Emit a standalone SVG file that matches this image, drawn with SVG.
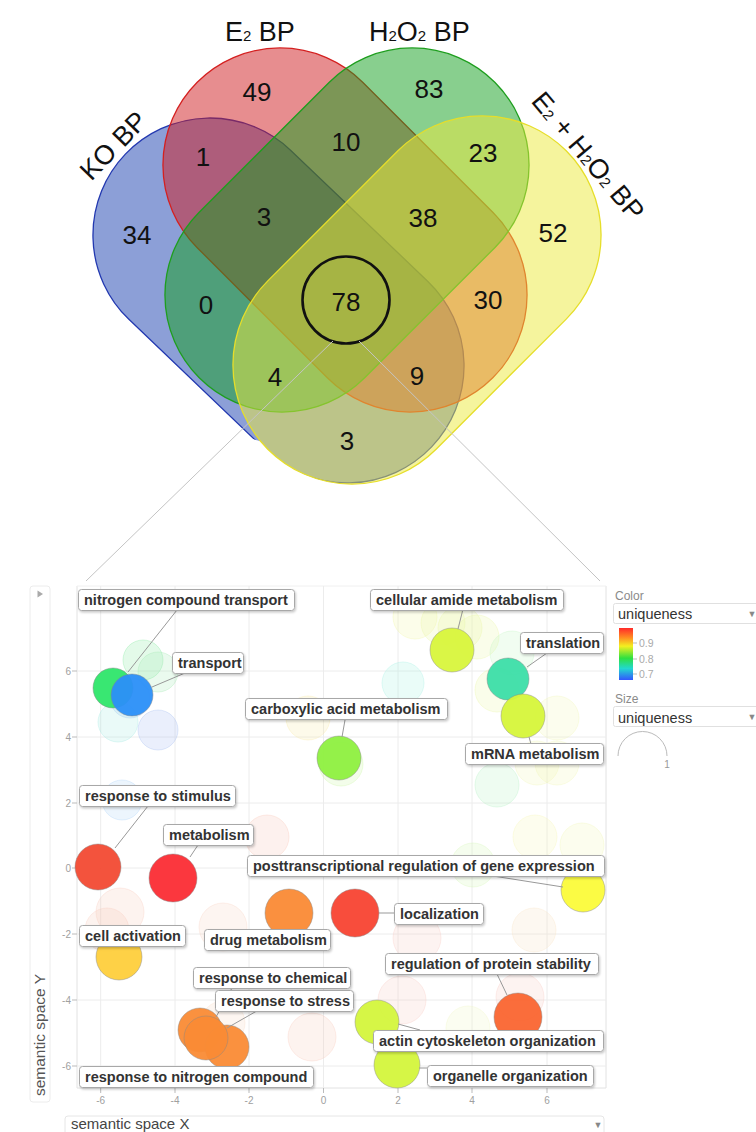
<svg xmlns="http://www.w3.org/2000/svg" width="756" height="1132" viewBox="0 0 756 1132">
<defs>
<style>
.vt{font-family:"Liberation Sans",Arial,sans-serif;fill:#111;}
.num{font-family:"Liberation Sans",Arial,sans-serif;font-size:26px;fill:#111;text-anchor:middle;}
.set{stroke-width:1.3;}
.grid{stroke:#ececec;stroke-width:1;fill:none;}
.tick{font-family:"Liberation Sans",Arial,sans-serif;font-size:10px;fill:#a0a0a0;}
.tk{stroke:#bbb;stroke-width:1;}
.fb{stroke-width:1;fill-opacity:0.22;stroke-opacity:0.3;}
.cb{stroke-width:1;fill-opacity:0.95;stroke:#888;stroke-opacity:0.45;}
.lbl rect{fill:#fff;stroke:#a8a8a8;stroke-width:1;filter:url(#sh);}
.lbl text{font-family:"Liberation Sans",Arial,sans-serif;font-size:14.5px;font-weight:bold;fill:#333;}
.con line{stroke:#999;stroke-width:1;}
.zoom line{stroke:#c4c4c4;stroke-width:1;}
.ui{font-family:"Liberation Sans",Arial,sans-serif;}
</style>
<filter id="sh" x="-10%" y="-30%" width="120%" height="170%">
<feDropShadow dx="1" dy="1.5" stdDeviation="1" flood-color="#000" flood-opacity="0.22"/>
</filter>
<linearGradient id="cg" x1="0" y1="0" x2="0" y2="1">
<stop offset="0" stop-color="#ff2a2a"/>
<stop offset="0.18" stop-color="#ff8a22"/>
<stop offset="0.35" stop-color="#f3f020"/>
<stop offset="0.58" stop-color="#2ee040"/>
<stop offset="0.78" stop-color="#22d8d0"/>
<stop offset="1" stop-color="#3355ff"/>
</linearGradient>
<clipPath id="koclip">
<rect x="206" y="181" width="422" height="238" rx="119" transform="rotate(-45 417 300)"/>
<polygon points="0,0 756,0 756,600 352,600 352,470 0,360"/>
</clipPath>
</defs>
<rect width="756" height="1132" fill="#fff"/>

<!-- Venn diagram -->
<g id="set-KO" clip-path="url(#koclip)">
<rect class="set" x="66.7" y="183.5" width="423.6" height="234" rx="117" transform="rotate(43.7 278.5 300.5)" fill="#1a3fb0" fill-opacity="0.5" stroke="#2238b0"/>
</g>
<g id="set-E2">
<rect class="set" x="136" y="113" width="418" height="234" rx="117" transform="rotate(45 345 230)" fill="#d01c1f" fill-opacity="0.5" stroke="#d42020"/>
</g>
<g id="set-H2O2">
<rect class="set" x="138" y="113" width="418" height="234" rx="117" transform="rotate(-45 347 230)" fill="#12a01e" fill-opacity="0.5" stroke="#1e9e1e"/>
</g>
<g id="set-E2H2O2">
<rect class="set" x="206" y="181" width="422" height="238" rx="119" transform="rotate(-45 417 300)" fill="#ecea3c" fill-opacity="0.5" stroke="#e6de2a"/>
</g>

<g id="venn-titles">
<text class="vt" x="120" y="152" font-size="27" text-anchor="middle" transform="rotate(-46 120 152)">KO BP</text>
<text class="vt" x="225" y="41" font-size="27">E<tspan font-size="15">2</tspan> BP</text>
<text class="vt" x="369" y="41" font-size="27">H<tspan font-size="15">2</tspan>O<tspan font-size="15">2</tspan> BP</text>
<text class="vt" x="581" y="162" font-size="27" text-anchor="middle" transform="rotate(50 581 162)">E<tspan font-size="15">2</tspan> + H<tspan font-size="15">2</tspan>O<tspan font-size="15">2</tspan> BP</text>
</g>

<g id="venn-counts">
<text class="num" x="257" y="101">49</text>
<text class="num" x="429" y="98">83</text>
<text class="num" x="203" y="166">1</text>
<text class="num" x="346" y="151">10</text>
<text class="num" x="483" y="162">23</text>
<text class="num" x="137" y="244">34</text>
<text class="num" x="264" y="226">3</text>
<text class="num" x="423" y="227">38</text>
<text class="num" x="553" y="242">52</text>
<text class="num" x="206" y="314">0</text>
<text class="num" x="346" y="311">78</text>
<text class="num" x="488" y="309">30</text>
<text class="num" x="275" y="386">4</text>
<text class="num" x="417" y="385">9</text>
<text class="num" x="347" y="450">3</text>
</g>
<g id="highlight-78">
<circle cx="346" cy="300" r="43.5" fill="none" stroke="#111" stroke-width="2.6"/>
</g>

<g id="zoom-lines" class="zoom">
<line x1="333" y1="341" x2="86" y2="581"/>
<line x1="359" y1="341" x2="600" y2="581"/>
</g>

<!-- Scatter plot frame -->
<g id="plot-frame">
<rect x="30" y="586" width="20" height="516" rx="3" fill="#fff" stroke="#ececec"/>
<path d="M37.5,590.5 L43,594 L37.5,597.5 Z" fill="#aaa"/>
<text class="ui" x="45" y="1035" font-size="15.5" fill="#555" text-anchor="middle" transform="rotate(-90 45 1035)">semantic space Y</text>
<line x1="77" y1="586" x2="77" y2="1088" stroke="#e2e2e2"/>
<line x1="606" y1="586" x2="606" y2="1088" stroke="#e2e2e2"/>
<line x1="77" y1="1088" x2="606" y2="1088" stroke="#e2e2e2"/>
<line x1="77" y1="586" x2="606" y2="586" stroke="#f0f0f0"/>
<g class="grid">
<line x1="100.7" y1="586" x2="100.7" y2="1088"/>
<line x1="175" y1="586" x2="175" y2="1088"/>
<line x1="249" y1="586" x2="249" y2="1088"/>
<line x1="323.5" y1="586" x2="323.5" y2="1088"/>
<line x1="398" y1="586" x2="398" y2="1088"/>
<line x1="472" y1="586" x2="472" y2="1088"/>
<line x1="547" y1="586" x2="547" y2="1088"/>
<line x1="77" y1="671" x2="606" y2="671"/>
<line x1="77" y1="737" x2="606" y2="737"/>
<line x1="77" y1="803" x2="606" y2="803"/>
<line x1="77" y1="868" x2="606" y2="868"/>
<line x1="77" y1="934" x2="606" y2="934"/>
<line x1="77" y1="1000" x2="606" y2="1000"/>
<line x1="77" y1="1066" x2="606" y2="1066"/>
</g>
<g class="tk">
<line x1="72" y1="671" x2="77" y2="671"/>
<line x1="72" y1="737" x2="77" y2="737"/>
<line x1="72" y1="803" x2="77" y2="803"/>
<line x1="72" y1="868" x2="77" y2="868"/>
<line x1="72" y1="934" x2="77" y2="934"/>
<line x1="72" y1="1000" x2="77" y2="1000"/>
<line x1="72" y1="1066" x2="77" y2="1066"/>
<line x1="100.7" y1="1088" x2="100.7" y2="1093"/>
<line x1="175" y1="1088" x2="175" y2="1093"/>
<line x1="249" y1="1088" x2="249" y2="1093"/>
<line x1="323.5" y1="1088" x2="323.5" y2="1093"/>
<line x1="398" y1="1088" x2="398" y2="1093"/>
<line x1="472" y1="1088" x2="472" y2="1093"/>
<line x1="547" y1="1088" x2="547" y2="1093"/>
</g>
<g class="tick" text-anchor="end">
<text x="71" y="674.5">6</text>
<text x="71" y="740.5">4</text>
<text x="71" y="806.5">2</text>
<text x="71" y="871.5">0</text>
<text x="71" y="937.5">-2</text>
<text x="71" y="1003.5">-4</text>
<text x="71" y="1069.5">-6</text>
</g>
<g class="tick" text-anchor="middle">
<text x="100.7" y="1104">-6</text>
<text x="175" y="1104">-4</text>
<text x="249" y="1104">-2</text>
<text x="323.5" y="1104">0</text>
<text x="398" y="1104">2</text>
<text x="472" y="1104">4</text>
<text x="547" y="1104">6</text>
</g>
<rect x="65" y="1116" width="539" height="30" rx="3" fill="#fff" stroke="#e6e6e6"/>
<text class="ui" x="71" y="1128.5" font-size="15" fill="#444">semantic space X</text>
<text class="ui" x="598" y="1128" font-size="9" fill="#888" text-anchor="middle">▼</text>
</g>

<!-- Legend -->
<g id="legend">
<text class="ui" x="615" y="600" font-size="12" fill="#8a8a8a">Color</text>
<rect x="613.5" y="603.5" width="160" height="20" rx="2" fill="#fff" stroke="#e0e0e0"/>
<text class="ui" x="618" y="619" font-size="14.5" fill="#333">uniqueness</text>
<text class="ui" x="752" y="617" font-size="9" fill="#888" text-anchor="middle">▼</text>
<rect x="619" y="628" width="14" height="52" fill="url(#cg)"/>
<g stroke="#bbb"><line x1="633" y1="643" x2="637" y2="643"/><line x1="633" y1="659" x2="637" y2="659"/><line x1="633" y1="674" x2="637" y2="674"/></g>
<text class="ui" x="639" y="647" font-size="10.5" fill="#aaa">0.9</text>
<text class="ui" x="639" y="663" font-size="10.5" fill="#aaa">0.8</text>
<text class="ui" x="639" y="678" font-size="10.5" fill="#aaa">0.7</text>
<text class="ui" x="615" y="703" font-size="12" fill="#8a8a8a">Size</text>
<rect x="613.5" y="706.5" width="160" height="20" rx="2" fill="#fff" stroke="#e0e0e0"/>
<text class="ui" x="618" y="723" font-size="14.5" fill="#333">uniqueness</text>
<text class="ui" x="752" y="720" font-size="9" fill="#888" text-anchor="middle">▼</text>
<path d="M618,756 A24.5,24.5 0 0 1 667,756" fill="none" stroke="#bbb" stroke-width="1"/>
<text class="ui" x="667" y="768" font-size="10" fill="#999" text-anchor="middle">1</text>
</g>

<!-- faint background bubbles -->
<g id="faint-bubbles">
<circle class="fb" cx="143" cy="660" r="20" fill="#7ee89a" stroke="#7ee89a"/>
<circle class="fb" cx="158" cy="672" r="20" fill="#9ee8b0" stroke="#9ee8b0"/>
<circle class="fb" cx="130" cy="698" r="20" fill="#9ec0f0" stroke="#9ec0f0"/>
<circle class="fb" cx="118" cy="722" r="20" fill="#a0e8e0" stroke="#a0e8e0"/>
<circle class="fb" cx="158" cy="730" r="20" fill="#a0b8f0" stroke="#a0b8f0"/>
<circle class="fb" cx="122" cy="800" r="20" fill="#a8d0f8" stroke="#a8d0f8"/>
<circle class="fb" cx="308" cy="718" r="22" fill="#f8e8a0" stroke="#f8e8a0"/>
<circle class="fb" cx="341" cy="764" r="22" fill="#c8f5a0" stroke="#c8f5a0"/>
<circle class="fb" cx="403" cy="683" r="21" fill="#a0f0e0" stroke="#a0f0e0"/>
<circle class="fb" cx="415" cy="617" r="22" fill="#f0f5a0" stroke="#f0f5a0"/>
<circle class="fb" cx="443" cy="623" r="22" fill="#e8f5a0" stroke="#e8f5a0"/>
<circle class="fb" cx="460" cy="628" r="22" fill="#e8f5a0" stroke="#e8f5a0"/>
<circle class="fb" cx="477" cy="637" r="22" fill="#e8f5a0" stroke="#e8f5a0"/>
<circle class="fb" cx="497" cy="690" r="22" fill="#e8f5a0" stroke="#e8f5a0"/>
<circle class="fb" cx="512" cy="653" r="22" fill="#c0f5c0" stroke="#c0f5c0"/>
<circle class="fb" cx="557" cy="718" r="22" fill="#f0f5b0" stroke="#f0f5b0"/>
<circle class="fb" cx="537" cy="763" r="22" fill="#f0f5b0" stroke="#f0f5b0"/>
<circle class="fb" cx="557" cy="763" r="22" fill="#f0f5b0" stroke="#f0f5b0"/>
<circle class="fb" cx="497" cy="785" r="22" fill="#b0f0c0" stroke="#b0f0c0"/>
<circle class="fb" cx="535" cy="837" r="22" fill="#f5f5b0" stroke="#f5f5b0"/>
<circle class="fb" cx="582" cy="845" r="22" fill="#f0f5b0" stroke="#f0f5b0"/>
<circle class="fb" cx="473" cy="865" r="22" fill="#d0f5b0" stroke="#d0f5b0"/>
<circle class="fb" cx="267" cy="837" r="22" fill="#f8c0b0" stroke="#f8c0b0"/>
<circle class="fb" cx="120" cy="912" r="24" fill="#f8c8b8" stroke="#f8c8b8"/>
<circle class="fb" cx="107" cy="930" r="22" fill="#f8c8b8" stroke="#f8c8b8"/>
<circle class="fb" cx="223" cy="927" r="24" fill="#f8d0c0" stroke="#f8d0c0"/>
<circle class="fb" cx="534" cy="930" r="22" fill="#f8e0c0" stroke="#f8e0c0"/>
<circle class="fb" cx="417" cy="938" r="24" fill="#f8c8c0" stroke="#f8c8c0"/>
<circle class="fb" cx="402" cy="1000" r="24" fill="#f8c8c0" stroke="#f8c8c0"/>
<circle class="fb" cx="520" cy="997" r="24" fill="#f8c8c0" stroke="#f8c8c0"/>
<circle class="fb" cx="468" cy="1028" r="22" fill="#eef5c0" stroke="#eef5c0"/>
<circle class="fb" cx="312" cy="1037" r="24" fill="#f8c8b8" stroke="#f8c8b8"/>
<circle class="fb" cx="223" cy="1023" r="22" fill="#f8d8c0" stroke="#f8d8c0"/>
</g>

<!-- labelled term bubbles -->
<g id="b-nitrogen-compound-transport"><circle class="cb" cx="113" cy="688" r="20" fill="#2ee66a"/></g>
<g id="b-transport"><circle class="cb" cx="132" cy="695" r="21" fill="#2b8ff8"/></g>
<g id="b-carboxylic-acid-metabolism"><circle class="cb" cx="339" cy="758" r="22" fill="#8ef040"/></g>
<g id="b-cellular-amide-metabolism"><circle class="cb" cx="452" cy="650" r="22" fill="#d8f53c"/></g>
<g id="b-translation"><circle class="cb" cx="508" cy="679" r="21" fill="#3cdea8"/></g>
<g id="b-mrna-metabolism"><circle class="cb" cx="523" cy="716" r="22" fill="#d6f53a"/></g>
<g id="b-response-to-stimulus"><circle class="cb" cx="98" cy="867" r="23" fill="#f24a33"/></g>
<g id="b-metabolism"><circle class="cb" cx="173" cy="878" r="24" fill="#fb2c34"/></g>
<g id="b-posttranscriptional"><circle class="cb" cx="583" cy="890" r="22" fill="#fbfb3a"/></g>
<g id="b-localization"><circle class="cb" cx="355" cy="913" r="24" fill="#f84332"/></g>
<g id="b-drug-metabolism"><circle class="cb" cx="289" cy="913" r="24" fill="#fa8a35"/></g>
<g id="b-cell-activation"><circle class="cb" cx="119" cy="957" r="23" fill="#fecf3c"/></g>
<g id="b-protein-stability"><circle class="cb" cx="518" cy="1017" r="24" fill="#fa6530"/></g>
<g id="b-response-to-chemical"><circle class="cb" cx="200" cy="1030" r="22" fill="#fa8b35"/></g>
<g id="b-response-to-nitrogen-compound"><circle class="cb" cx="227" cy="1047" r="22" fill="#fa8b35"/></g>
<g id="b-response-to-stress"><circle class="cb" cx="206" cy="1038" r="22" fill="#fa8b35"/></g>
<g id="b-actin"><circle class="cb" cx="377" cy="1022" r="22" fill="#d4f53c"/></g>
<g id="b-organelle"><circle class="cb" cx="397" cy="1065" r="23" fill="#d4f53c"/></g>

<!-- label connectors -->
<g id="connectors" class="con">
<line x1="177" y1="610" x2="128" y2="672"/>
<line x1="185" y1="673" x2="152" y2="687"/>
<line x1="345" y1="720" x2="342" y2="737"/>
<line x1="463" y1="609" x2="458" y2="629"/>
<line x1="547" y1="653" x2="527" y2="667"/>
<line x1="529" y1="737" x2="531" y2="744"/>
<line x1="148" y1="806" x2="115" y2="848"/>
<line x1="198" y1="845" x2="190" y2="857"/>
<line x1="493" y1="876" x2="563" y2="887"/>
<line x1="379" y1="913" x2="395" y2="913"/>
<line x1="497" y1="974" x2="507" y2="995"/>
<line x1="232" y1="988" x2="216" y2="1017"/>
<line x1="262" y1="1008" x2="227" y2="1028"/>
<line x1="398" y1="1024" x2="420" y2="1030"/>
<line x1="419" y1="1068" x2="428" y2="1068"/>
</g>

<!-- labels -->
<g id="l-nitrogen-compound-transport" class="lbl"><rect x="78.5" y="589.5" width="216" height="21" rx="3"/><text x="84" y="605">nitrogen compound transport</text></g>
<g id="l-transport" class="lbl"><rect x="172.5" y="652.5" width="71" height="21" rx="3"/><text x="178" y="668">transport</text></g>
<g id="l-carboxylic-acid-metabolism" class="lbl"><rect x="245.5" y="698.5" width="202" height="21" rx="3"/><text x="251" y="714">carboxylic acid metabolism</text></g>
<g id="l-cellular-amide-metabolism" class="lbl"><rect x="370.5" y="589.5" width="193" height="21" rx="3"/><text x="376" y="605">cellular amide metabolism</text></g>
<g id="l-translation" class="lbl"><rect x="520.5" y="632.5" width="83" height="21" rx="3"/><text x="526" y="648">translation</text></g>
<g id="l-mrna-metabolism" class="lbl"><rect x="465.5" y="743.5" width="138" height="21" rx="3"/><text x="471" y="759">mRNA metabolism</text></g>
<g id="l-response-to-stimulus" class="lbl"><rect x="79.5" y="785.5" width="156" height="21" rx="3"/><text x="85" y="801">response to stimulus</text></g>
<g id="l-metabolism" class="lbl"><rect x="163.5" y="824.5" width="90" height="21" rx="3"/><text x="169" y="840">metabolism</text></g>
<g id="l-posttranscriptional" class="lbl"><rect x="247.5" y="855.5" width="357" height="21" rx="3"/><text x="253" y="871">posttranscriptional regulation of gene expression</text></g>
<g id="l-localization" class="lbl"><rect x="394.5" y="903.5" width="89" height="21" rx="3"/><text x="400" y="919">localization</text></g>
<g id="l-drug-metabolism" class="lbl"><rect x="204.5" y="929.5" width="126" height="21" rx="3"/><text x="210" y="945">drug metabolism</text></g>
<g id="l-cell-activation" class="lbl"><rect x="79.5" y="925.5" width="106" height="21" rx="3"/><text x="85" y="941">cell activation</text></g>
<g id="l-protein-stability" class="lbl"><rect x="385.5" y="953.5" width="213" height="21" rx="3"/><text x="391" y="969">regulation of protein stability</text></g>
<g id="l-response-to-chemical" class="lbl"><rect x="193.5" y="967.5" width="157" height="21" rx="3"/><text x="199" y="983">response to chemical</text></g>
<g id="l-response-to-stress" class="lbl"><rect x="215.5" y="990.5" width="138" height="21" rx="3"/><text x="221" y="1006">response to stress</text></g>
<g id="l-response-to-nitrogen-compound" class="lbl"><rect x="79.5" y="1066.5" width="234" height="21" rx="3"/><text x="85" y="1082">response to nitrogen compound</text></g>
<g id="l-actin" class="lbl"><rect x="373.5" y="1030.5" width="230" height="21" rx="3"/><text x="379" y="1046">actin cytoskeleton organization</text></g>
<g id="l-organelle" class="lbl"><rect x="427.5" y="1065.5" width="166" height="21" rx="3"/><text x="433" y="1081">organelle organization</text></g>
</svg>
